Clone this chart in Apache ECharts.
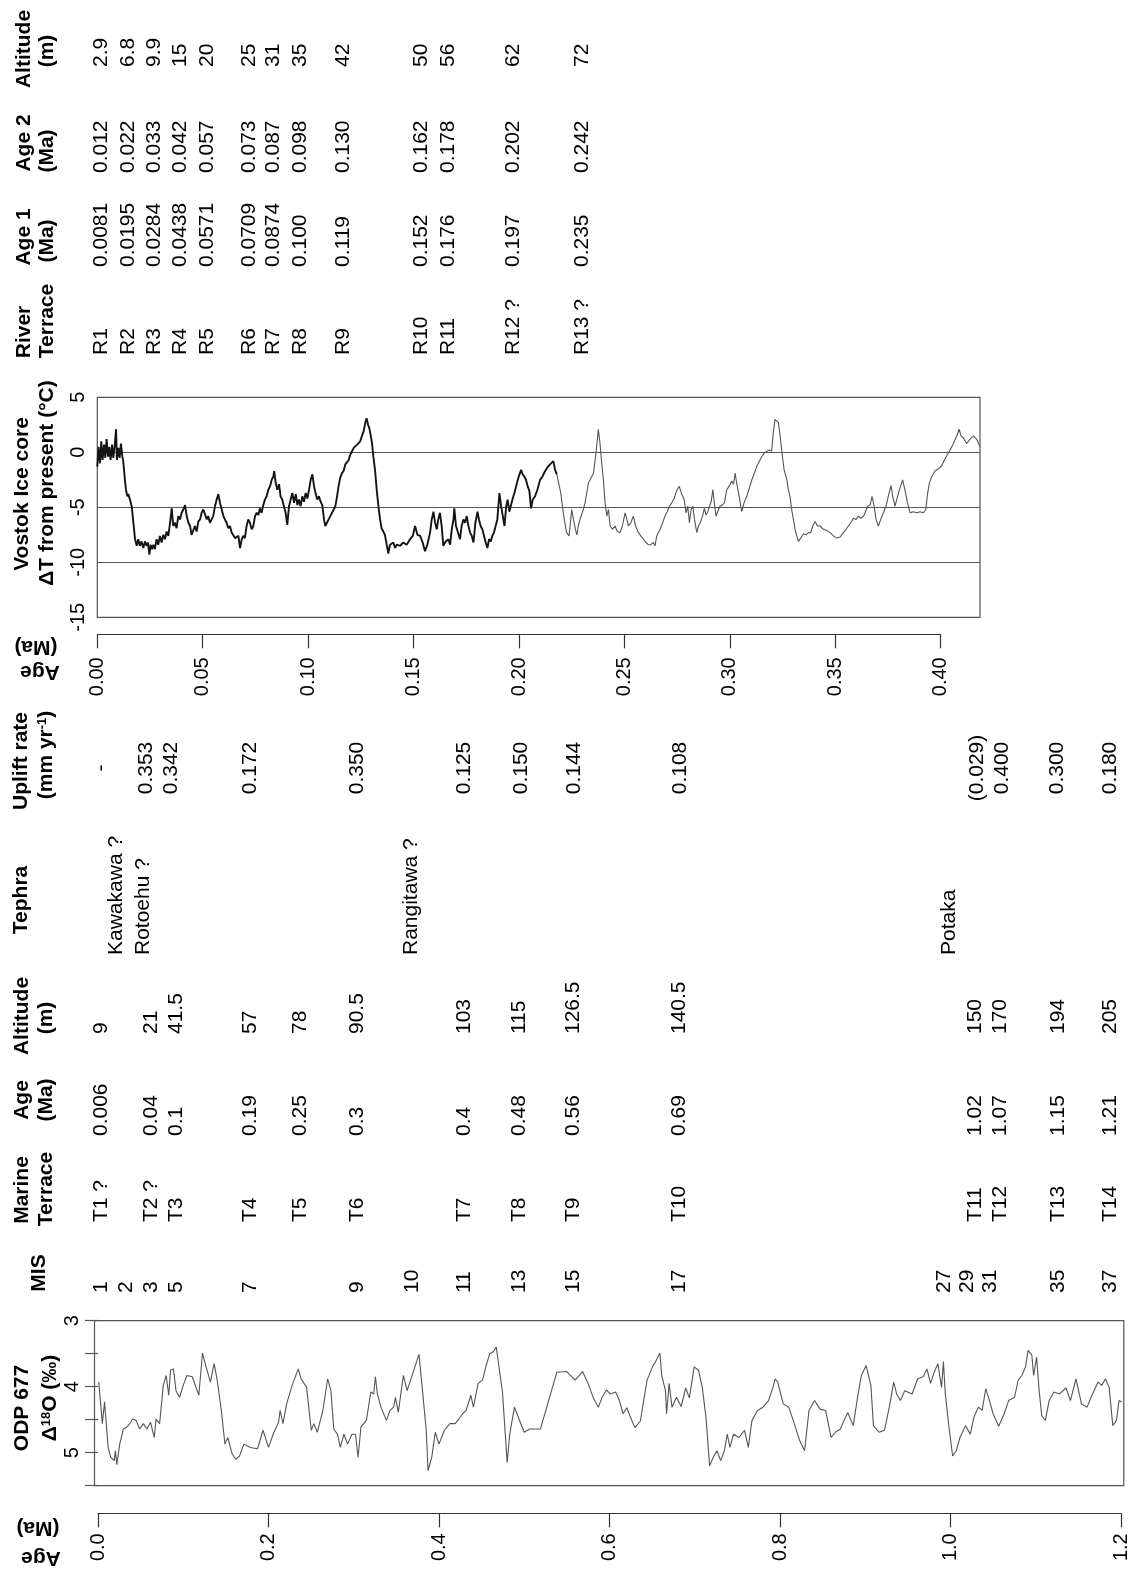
<!DOCTYPE html>
<html><head><meta charset="utf-8">
<script src="https://cdn.jsdelivr.net/npm/echarts@6/dist/echarts.min.js"></script>
<style>html,body{margin:0;padding:0;background:#fff}#c{width:1136px;height:1570px}</style>
</head><body><div id="c"></div>
<script>
// ---------------- DATA ----------------
// Vostok ice core: [age (Ma), dT (degC)]
const vostok = [
[0.0000,-1.3],[0.0006,0.5],[0.0013,-1.0],[0.0019,1.0],[0.0025,-0.7],[0.0032,0.7],[0.0038,-0.5],[0.0044,1.2],[0.0051,-0.4],[0.0057,0.5],
[0.0063,-0.7],[0.0070,0.7],[0.0076,-0.5],[0.0082,0.5],[0.0089,2.1],[0.0093,-0.7],[0.0100,0.4],[0.0106,-0.5],[0.0112,0.8],[0.0119,-0.4],
[0.0123,-0.8],[0.0131,-2.5],[0.0136,-3.4],[0.0142,-4.0],[0.0147,-3.8],[0.0155,-4.3],[0.0163,-4.9],[0.0171,-6.4],[0.0179,-7.9],[0.0187,-8.5],
[0.0194,-7.9],[0.0202,-8.5],[0.0210,-8.1],[0.0218,-8.7],[0.0226,-8.1],[0.0234,-8.5],[0.0240,-8.2],[0.0247,-9.3],[0.0253,-8.4],[0.0259,-8.8],
[0.0266,-8.4],[0.0273,-8.8],[0.0281,-7.9],[0.0289,-8.4],[0.0297,-7.6],[0.0305,-8.2],[0.0313,-7.5],[0.0321,-7.9],[0.0329,-7.2],[0.0337,-7.6],
[0.0345,-6.4],[0.0353,-5.1],[0.0360,-6.7],[0.0368,-6.4],[0.0376,-6.9],[0.0384,-5.8],[0.0392,-6.1],[0.0400,-5.5],[0.0408,-5.2],[0.0416,-4.8],
[0.0424,-5.8],[0.0432,-6.4],[0.0440,-6.7],[0.0447,-7.5],[0.0455,-7.6],[0.0463,-6.7],[0.0471,-7.2],[0.0479,-6.3],[0.0487,-6.1],[0.0495,-5.5],
[0.0503,-5.2],[0.0511,-5.1],[0.0519,-6.1],[0.0526,-5.8],[0.0534,-6.4],[0.0542,-6.1],[0.0550,-5.8],[0.0558,-4.9],[0.0566,-4.3],[0.0574,-3.8],
[0.0582,-4.6],[0.0590,-5.2],[0.0598,-5.8],[0.0605,-6.1],[0.0613,-6.4],[0.0621,-6.9],[0.0629,-6.7],[0.0637,-7.3],[0.0645,-7.2],[0.0653,-7.8],
[0.0661,-7.9],[0.0669,-7.6],[0.0677,-8.7],[0.0685,-7.9],[0.0692,-7.6],[0.0700,-7.8],[0.0708,-6.7],[0.0716,-6.1],[0.0724,-6.4],[0.0732,-7.0],
[0.0740,-6.7],[0.0748,-5.8],[0.0756,-5.5],[0.0764,-5.7],[0.0771,-5.1],[0.0779,-5.5],[0.0787,-4.8],[0.0795,-4.3],[0.0803,-4.0],[0.0811,-3.4],
[0.0819,-3.1],[0.0827,-2.5],[0.0835,-2.2],[0.0839,-1.7],[0.0846,-2.8],[0.0854,-3.4],[0.0862,-2.9],[0.0869,-4.0],[0.0877,-4.3],[0.0885,-4.9],
[0.0893,-5.5],[0.0901,-6.6],[0.0909,-4.9],[0.0917,-4.3],[0.0925,-3.7],[0.0933,-4.6],[0.0941,-3.8],[0.0949,-4.8],[0.0956,-4.3],[0.0964,-4.9],
[0.0972,-4.0],[0.0980,-4.5],[0.0988,-3.7],[0.0996,-4.2],[0.1004,-3.4],[0.1012,-2.5],[0.1020,-2.0],[0.1028,-3.1],[0.1036,-3.8],[0.1043,-4.3],
[0.1051,-4.0],[0.1059,-4.5],[0.1067,-4.8],[0.1075,-6.1],[0.1081,-6.7],[0.1089,-6.4],[0.1097,-6.1],[0.1105,-5.8],[0.1113,-5.7],[0.1121,-5.2],
[0.1129,-4.9],[0.1137,-4.0],[0.1144,-3.1],[0.1152,-2.3],[0.1160,-1.9],[0.1168,-1.7],[0.1176,-1.1],[0.1184,-1.0],[0.1192,-0.7],[0.1200,-0.2],
[0.1208,0.1],[0.1216,0.4],[0.1224,0.5],[0.1232,0.7],[0.1239,0.8],[0.1247,1.0],[0.1255,1.5],[0.1263,1.9],[0.1271,2.7],[0.1277,3.1],
[0.1284,2.5],[0.1290,2.2],[0.1296,1.6],[0.1303,0.8],[0.1309,-0.4],[0.1317,-1.6],[0.1325,-3.4],[0.1333,-4.9],[0.1341,-6.1],[0.1348,-6.9],
[0.1356,-7.2],[0.1364,-7.5],[0.1372,-7.6],[0.1380,-9.2],[0.1388,-8.4],[0.1396,-8.5],[0.1404,-8.2],[0.1412,-8.7],[0.1420,-8.4],[0.1428,-8.5],
[0.1436,-8.5],[0.1451,-8.2],[0.1467,-8.4],[0.1483,-7.9],[0.1496,-7.6],[0.1507,-6.7],[0.1518,-7.5],[0.1531,-7.6],[0.1543,-8.2],[0.1554,-9.0],
[0.1565,-8.4],[0.1578,-7.3],[0.1586,-6.1],[0.1594,-5.4],[0.1602,-6.4],[0.1610,-7.0],[0.1617,-6.1],[0.1625,-5.5],[0.1633,-6.7],[0.1641,-8.5],
[0.1652,-8.1],[0.1665,-7.9],[0.1673,-8.4],[0.1681,-7.0],[0.1689,-6.1],[0.1693,-5.1],[0.1701,-6.7],[0.1709,-7.2],[0.1720,-7.9],[0.1728,-6.7],
[0.1736,-6.1],[0.1744,-6.4],[0.1752,-5.8],[0.1760,-6.7],[0.1768,-7.3],[0.1776,-7.6],[0.1784,-8.2],[0.1793,-6.4],[0.1803,-5.4],[0.1810,-6.1],
[0.1818,-6.7],[0.1826,-7.0],[0.1834,-7.6],[0.1842,-8.2],[0.1850,-8.7],[0.1858,-7.9],[0.1866,-8.1],[0.1873,-7.6],[0.1881,-7.3],[0.1889,-6.7],
[0.1897,-6.1],[0.1907,-3.7],[0.1915,-4.9],[0.1923,-5.8],[0.1931,-6.7],[0.1939,-4.9],[0.1946,-4.3],[0.1954,-5.4],[0.1962,-4.8],[0.1970,-4.2],
[0.1978,-3.7],[0.1986,-3.1],[0.1994,-2.5],[0.2002,-2.0],[0.2010,-1.6],[0.2017,-2.0],[0.2025,-2.2],[0.2033,-2.5],[0.2041,-3.1],[0.2049,-3.5],
[0.2057,-5.1],[0.2065,-4.3],[0.2076,-4.0],[0.2087,-3.4],[0.2100,-2.5],[0.2111,-2.2],[0.2124,-1.7],[0.2134,-1.4],[0.2147,-1.1],[0.2155,-1.0],
[0.2163,-0.8],[0.2171,-1.6],[0.2179,-2.0],[0.2188,-2.8],[0.2198,-3.7],[0.2207,-5.1],[0.2217,-6.4],[0.2226,-7.3],[0.2237,-7.6],[0.2250,-5.2],
[0.2258,-6.1],[0.2266,-6.9],[0.2274,-7.5],[0.2281,-6.7],[0.2289,-6.1],[0.2297,-6.0],[0.2305,-5.2],[0.2313,-4.6],[0.2321,-3.7],[0.2329,-2.8],
[0.2337,-2.5],[0.2345,-2.2],[0.2353,-1.9],[0.2361,-0.7],[0.2368,0.5],[0.2376,2.1],[0.2384,0.8],[0.2392,-1.0],[0.2400,-2.5],[0.2408,-4.6],
[0.2416,-5.8],[0.2424,-5.2],[0.2432,-6.7],[0.2443,-7.0],[0.2455,-6.7],[0.2466,-7.2],[0.2479,-7.3],[0.2490,-6.7],[0.2503,-5.5],[0.2511,-6.1],
[0.2519,-6.7],[0.2530,-6.4],[0.2542,-5.8],[0.2553,-6.7],[0.2566,-7.3],[0.2577,-7.6],[0.2590,-7.9],[0.2602,-8.2],[0.2613,-8.4],[0.2625,-8.4],
[0.2637,-8.2],[0.2645,-8.5],[0.2653,-7.6],[0.2661,-7.3],[0.2669,-7.0],[0.2681,-6.4],[0.2692,-5.8],[0.2703,-5.4],[0.2713,-4.9],[0.2724,-4.6],
[0.2735,-4.2],[0.2747,-3.5],[0.2760,-3.1],[0.2771,-3.8],[0.2783,-4.3],[0.2792,-5.5],[0.2800,-4.9],[0.2808,-6.4],[0.2816,-5.2],[0.2824,-4.9],
[0.2832,-6.1],[0.2843,-7.3],[0.2851,-6.7],[0.2859,-6.4],[0.2870,-5.8],[0.2879,-5.1],[0.2887,-5.7],[0.2895,-5.4],[0.2903,-4.9],[0.2911,-4.5],
[0.2919,-3.4],[0.2926,-4.6],[0.2934,-5.8],[0.2942,-5.4],[0.2953,-4.9],[0.2964,-4.8],[0.2974,-4.6],[0.2985,-3.4],[0.2996,-3.1],[0.3009,-2.6],
[0.3017,-2.9],[0.3025,-1.9],[0.3032,-2.8],[0.3044,-4.0],[0.3056,-5.4],[0.3067,-4.6],[0.3080,-4.0],[0.3093,-3.2],[0.3104,-2.5],[0.3116,-1.9],
[0.3127,-1.3],[0.3140,-0.8],[0.3151,-0.4],[0.3162,-0.1],[0.3175,0.1],[0.3187,0.2],[0.3198,0.1],[0.3206,1.8],[0.3214,3.0],[0.3222,3.1],
[0.3230,2.7],[0.3238,1.5],[0.3246,0.1],[0.3257,-1.6],[0.3270,-2.5],[0.3277,-3.4],[0.3285,-4.0],[0.3293,-5.2],[0.3301,-6.1],[0.3309,-7.0],
[0.3317,-7.6],[0.3325,-8.1],[0.3336,-7.8],[0.3349,-7.4],[0.3361,-7.5],[0.3372,-7.3],[0.3383,-7.3],[0.3393,-6.7],[0.3404,-6.3],[0.3415,-6.7],
[0.3428,-6.7],[0.3443,-7.0],[0.3459,-7.1],[0.3475,-7.3],[0.3491,-7.6],[0.3507,-7.8],[0.3523,-7.7],[0.3538,-7.3],[0.3551,-7.0],[0.3562,-6.7],
[0.3573,-6.4],[0.3586,-6.0],[0.3598,-6.1],[0.3610,-5.8],[0.3621,-6.0],[0.3634,-5.8],[0.3643,-5.4],[0.3653,-4.9],[0.3665,-4.8],[0.3674,-4.0],
[0.3684,-4.9],[0.3693,-6.1],[0.3704,-6.7],[0.3715,-6.1],[0.3728,-5.5],[0.3740,-4.9],[0.3751,-4.0],[0.3764,-3.0],[0.3772,-4.0],[0.3783,-4.9],
[0.3791,-4.3],[0.3804,-3.4],[0.3819,-2.5],[0.3831,-3.5],[0.3842,-4.6],[0.3855,-5.5],[0.3870,-5.4],[0.3886,-5.5],[0.3902,-5.4],[0.3918,-5.5],
[0.3929,-5.2],[0.3937,-3.8],[0.3946,-2.8],[0.3957,-2.2],[0.3973,-1.7],[0.3989,-1.5],[0.4005,-1.2],[0.4017,-0.7],[0.4029,-0.3],[0.4044,0.2],
[0.4060,0.8],[0.4076,1.5],[0.4087,2.1],[0.4096,1.5],[0.4107,1.3],[0.4123,0.8],[0.4139,1.2],[0.4155,1.5],[0.4170,1.2],[0.4186,0.5]
];

// ODP 677: [age (Ma), d18O (permil)]
const odp677 = [
[0.0009,3.93],[0.0051,4.56],[0.0077,4.23],[0.0094,4.51],[0.0119,4.92],[0.0149,5.07],[0.0191,5.12],[0.0204,4.97],[0.0221,5.18],[0.0255,4.87],
[0.0298,4.64],[0.0340,4.61],[0.0374,4.56],[0.0404,4.49],[0.0447,4.51],[0.0489,4.64],[0.0532,4.56],[0.0574,4.64],[0.0617,4.54],[0.0660,4.77],
[0.0681,4.49],[0.0723,4.56],[0.0766,3.98],[0.0800,3.83],[0.0830,4.13],[0.0851,3.75],[0.0885,3.73],[0.0915,4.06],[0.0957,4.16],[0.1000,3.98],
[0.1043,3.83],[0.1106,3.85],[0.1183,4.13],[0.1226,3.49],[0.1268,3.70],[0.1319,3.93],[0.1362,3.65],[0.1396,3.88],[0.1447,4.36],[0.1489,4.87],
[0.1523,4.77],[0.1574,5.02],[0.1617,5.10],[0.1660,5.05],[0.1711,4.87],[0.1787,4.92],[0.1872,4.94],[0.1936,4.66],[0.2000,4.92],[0.2064,4.69],
[0.2119,4.54],[0.2136,4.36],[0.2170,4.56],[0.2213,4.26],[0.2277,3.98],[0.2349,3.73],[0.2383,3.88],[0.2447,4.01],[0.2502,4.66],[0.2532,4.56],
[0.2574,4.69],[0.2638,4.36],[0.2694,3.88],[0.2732,4.06],[0.2766,4.64],[0.2809,4.72],[0.2843,4.92],[0.2885,4.72],[0.2928,4.87],[0.2979,4.72],
[0.3021,4.72],[0.3051,5.07],[0.3085,4.61],[0.3149,4.51],[0.3200,4.08],[0.3234,4.11],[0.3255,3.85],[0.3277,4.11],[0.3319,4.31],[0.3383,4.51],
[0.3426,4.36],[0.3468,4.31],[0.3489,4.16],[0.3523,4.39],[0.3566,3.98],[0.3583,3.83],[0.3626,4.06],[0.3766,3.51],[0.3851,4.66],[0.3872,5.27],
[0.3915,5.07],[0.3957,4.69],[0.4000,4.87],[0.4064,4.66],[0.4128,4.56],[0.4191,4.56],[0.4234,4.49],[0.4277,4.41],[0.4319,4.36],[0.4374,4.13],
[0.4404,4.31],[0.4460,3.95],[0.4511,3.90],[0.4553,3.68],[0.4596,3.50],[0.4638,3.47],[0.4672,3.40],[0.4745,4.08],[0.4800,5.15],[0.4830,4.72],
[0.4885,4.31],[0.4915,4.41],[0.5000,4.69],[0.5064,4.64],[0.5191,4.64],[0.5383,3.78],[0.5499,3.77],[0.5598,3.90],[0.5685,3.77],[0.5749,3.95],
[0.5814,4.18],[0.5870,4.31],[0.5914,4.16],[0.5965,4.05],[0.6009,4.11],[0.6073,4.08],[0.6117,4.21],[0.6160,4.41],[0.6203,4.32],[0.6246,4.46],
[0.6298,4.62],[0.6363,4.52],[0.6441,3.90],[0.6505,3.70],[0.6549,3.60],[0.6592,3.49],[0.6613,3.83],[0.6657,4.06],[0.6670,4.41],[0.6700,3.95],
[0.6734,4.31],[0.6786,4.16],[0.6842,4.30],[0.6894,4.02],[0.6937,4.17],[0.6994,3.70],[0.7045,3.75],[0.7089,4.01],[0.7132,4.46],[0.7175,5.20],
[0.7218,5.07],[0.7261,4.97],[0.7305,5.12],[0.7348,4.97],[0.7382,4.72],[0.7413,4.92],[0.7456,4.72],[0.7521,4.77],[0.7585,4.66],[0.7629,4.92],
[0.7672,4.51],[0.7737,4.36],[0.7801,4.31],[0.7866,4.21],[0.7918,4.01],[0.7944,3.88],[0.7974,3.93],[0.8039,4.26],[0.8104,4.31],[0.8168,4.56],
[0.8233,4.82],[0.8289,4.97],[0.8341,4.36],[0.8406,4.21],[0.8471,4.34],[0.8536,4.36],[0.8600,4.77],[0.8652,4.69],[0.8708,4.64],[0.8752,4.51],
[0.8795,4.39],[0.8860,4.59],[0.8911,4.16],[0.8955,3.83],[0.9011,3.68],[0.9067,3.98],[0.9097,4.59],[0.9162,4.69],[0.9227,4.66],[0.9283,4.31],
[0.9335,3.93],[0.9369,4.11],[0.9413,4.21],[0.9464,4.06],[0.9551,4.11],[0.9616,3.88],[0.9680,3.85],[0.9724,3.73],[0.9767,3.95],[0.9810,3.78],
[0.9853,3.65],[0.9896,4.01],[0.9918,3.62],[0.9940,4.11],[0.9983,4.61],[1.0026,5.05],[1.0069,4.97],[1.0112,4.77],[1.0177,4.59],[1.0233,4.72],
[1.0276,4.46],[1.0328,4.31],[1.0372,4.36],[1.0415,4.03],[1.0458,4.21],[1.0501,4.41],[1.0566,4.60],[1.0631,4.41],[1.0683,4.21],[1.0752,4.16],
[1.0795,3.90],[1.0838,3.83],[1.0881,3.70],[1.0911,3.45],[1.0955,3.52],[1.0976,3.83],[1.1011,3.55],[1.1041,4.06],[1.1071,4.44],[1.1114,4.51],
[1.1158,4.21],[1.1214,4.08],[1.1279,4.11],[1.1356,4.02],[1.1408,4.21],[1.1473,3.88],[1.1538,4.26],[1.1603,4.31],[1.1667,4.11],[1.1732,3.93],
[1.1775,3.98],[1.1819,3.88],[1.1862,4.01],[1.1905,4.59],[1.1948,4.51],[1.1978,4.21],[1.2013,4.23]
];

// River terrace table
const riverTerrace = ['R1','R2','R3','R4','R5','R6','R7','R8','R9','R10','R11','R12 ?','R13 ?'];
const riverAge1 = ['0.0081','0.0195','0.0284','0.0438','0.0571','0.0709','0.0874','0.100','0.119','0.152','0.176','0.197','0.235'];
const riverAge2 = ['0.012','0.022','0.033','0.042','0.057','0.073','0.087','0.098','0.130','0.162','0.178','0.202','0.242'];
const riverAltitude = ['2.9','6.8','9.9','15','20','25','31','35','42','50','56','62','72'];

// Marine terrace table
const misStages = ['1','2','3','5','7','9','10','11','13','15','17','27','29','31','35','37'];
const marineTerrace = ['T1 ?','T2 ?','T3','T4','T5','T6','T7','T8','T9','T10','T11','T12','T13','T14'];
const marineAge = ['0.006','0.04','0.1','0.19','0.25','0.3','0.4','0.48','0.56','0.69','1.02','1.07','1.15','1.21'];
const marineAltitude = ['9','21','41.5','57','78','90.5','103','115','126.5','140.5','150','170','194','205'];
const tephra = ['Kawakawa ?','Rotoehu ?','Rangitawa ?','Potaka'];
const upliftRate = ['-','0.353','0.342','0.172','0.350','0.125','0.150','0.144','0.108','(0.029)','0.400','0.300','0.180'];

// Tick labels
const vostokAgeTicks = ['0.00','0.05','0.10','0.15','0.20','0.25','0.30','0.35','0.40'];
const odpAgeTicks = ['0.0','0.2','0.4','0.6','0.8','1.0','1.2'];
const vostokTempTicks = [-15,-10,-5,0,5];
const odpIsoTicks = [3,4,5];

// ---------------- LAYOUT (pixel positions of table rows / columns) ----------------
const riverRowX = [101,128,154,180,207,249,273,300,343,421,448,513,582];
const misRowX = [101,126,151,176,250,357,412,464,519,573,679,944,967,990,1058,1110];
const marineRowX = [101,151,176,250,300,357,464,519,573,679,975,1000,1058,1110];
const upliftRowX = [101,146,171,250,357,464,521,574,680,977,1002,1057,1110];
const tephraRowX = [116,143,411,949];

const FONT = '"Liberation Sans", Arial, Helvetica, sans-serif';
const FS = 21;

function vText(str, x, y, align, bold, rich) {
  const st = {text: str, fill: '#000', fontSize: FS, fontFamily: FONT, fontWeight: bold ? 'bold' : 'normal',
    align: align, textAlign: align, verticalAlign: 'middle', textVerticalAlign: 'middle'};
  if (rich) st.rich = rich;
  return {type: 'text', x: x, y: y, rotation: Math.PI / 2, silent: true, style: st};
}
function flipText(str, x, y) {
  return {type: 'text', x: x, y: y, rotation: Math.PI, silent: true,
    style: {text: str, fill: '#000', fontSize: FS, fontFamily: FONT, fontWeight: 'bold',
      align: 'center', textAlign: 'center', verticalAlign: 'middle', textVerticalAlign: 'middle'}};
}
const supRich = (bold) => ({
  sup: {fontSize: 13, fontFamily: FONT, fontWeight: bold ? 'bold' : 'normal', verticalAlign: 'top', fill: '#000'},
  n: {fontSize: FS, fontFamily: FONT, fontWeight: bold ? 'bold' : 'normal', fill: '#000'}
});

const els = [];
// Headers (centered)
[
  ['Altitude', 24, 49], ['(m)', 47, 51],
  ['Age 2', 24, 143], ['(Ma)', 47, 151],
  ['Age 1', 24, 237], ['(Ma)', 47, 241],
  ['River', 24, 332], ['Terrace', 47, 321],
  ['Vostok Ice core', 22, 494], ['\u0394T from present (\u00b0C)', 47, 483],
  ['Uplift rate', 21, 761],
  ['Tephra', 21, 900],
  ['Altitude', 22, 1016], ['(m)', 46, 1018],
  ['Age', 22, 1100], ['(Ma)', 46, 1100],
  ['Marine', 22, 1190], ['Terrace', 46, 1189],
  ['MIS', 39, 1273],
  ['ODP 677', 22, 1408]
].forEach(h => els.push(vText(h[0], h[1], h[2], 'center', true)));
els.push(vText('{n|(mm yr}{sup|-1}{n|)}', 46, 755, 'center', true, supRich(true)));
els.push(vText('{n|\u0394}{sup|18}{n|O (\u2030)}', 50, 1398, 'center', true, supRich(true)));
els.push(flipText('(Ma)', 36, 647), flipText('Age', 40, 672));
els.push(flipText('(Ma)', 38, 1528), flipText('Age', 41, 1558));

// Upper table values (start-aligned: text begins at the given bottom y)
riverTerrace.forEach((t, i) => els.push(vText(t, riverRowX[i], 355, 'left')));
riverAge1.forEach((t, i) => els.push(vText(t, riverRowX[i], 267, 'left')));
riverAge2.forEach((t, i) => els.push(vText(t, riverRowX[i], 173, 'left')));
riverAltitude.forEach((t, i) => els.push(vText(t, riverRowX[i], 67, 'left')));
// Lower table values
upliftRate.forEach((t, i) => els.push(vText(t, upliftRowX[i], 768, 'center')));
tephra.forEach((t, i) => els.push(vText(t, tephraRowX[i], 955, 'left')));
marineAltitude.forEach((t, i) => els.push(vText(t, marineRowX[i], 1034, 'left')));
marineAge.forEach((t, i) => els.push(vText(t, marineRowX[i], 1136, 'left')));
marineTerrace.forEach((t, i) => els.push(vText(t, marineRowX[i], 1222, 'left')));
misStages.forEach((t, i) => els.push(vText(t, misRowX[i], 1293, 'left')));

// ---------------- CHART ----------------
const split = 0.2179;
const vostokA = vostok.filter(d => d[0] <= split);
const vostokB = vostok.filter(d => d[0] >= split);

const hiddenAxis = {axisLine: {show: false}, axisTick: {show: false}, axisLabel: {show: false}, splitLine: {show: false}};
const tickLabelStyle = {color: '#000', fontSize: 20, fontFamily: FONT};

const chart = echarts.init(document.getElementById('c'), null, {renderer: 'canvas'});
chart.setOption({
  animation: false,
  backgroundColor: '#fff',
  grid: [
    {left: 97.3, top: 397.3, width: 882.7, height: 220, show: true, borderColor: '#555', borderWidth: 1.2, backgroundColor: 'transparent'},
    {left: 97.3, top: 633.3, width: 843.4, height: 1},
    {left: 94.5, top: 1320.7, width: 1029.3, height: 165, show: true, borderColor: '#555', borderWidth: 1.2, backgroundColor: 'transparent'},
    {left: 98, top: 1512.3, width: 1023, height: 1}
  ],
  xAxis: [
    Object.assign({gridIndex: 0, type: 'value', min: 0, max: 0.4186}, hiddenAxis),
    {gridIndex: 1, type: 'value', min: 0, max: 0.4, interval: 0.05, position: 'bottom',
      axisLine: {show: true, lineStyle: {color: '#333', width: 1.2}},
      axisTick: {show: true, length: 14, lineStyle: {color: '#333', width: 1.2}},
      axisLabel: Object.assign({rotate: 90, margin: 23, formatter: v => vostokAgeTicks[Math.round(v / 0.05)] || ''}, tickLabelStyle),
      splitLine: {show: false}},
    Object.assign({gridIndex: 2, type: 'value', min: -0.0041, max: 1.2034}, hiddenAxis),
    {gridIndex: 3, type: 'value', min: 0, max: 1.2, interval: 0.2, position: 'bottom',
      axisLine: {show: true, lineStyle: {color: '#333', width: 1.2}},
      axisTick: {show: true, length: 14, lineStyle: {color: '#333', width: 1.2}},
      axisLabel: Object.assign({rotate: 90, margin: 20, formatter: v => odpAgeTicks[Math.round(v / 0.2)] || ''}, tickLabelStyle),
      splitLine: {show: false}}
  ],
  yAxis: [
    {gridIndex: 0, type: 'value', min: -15, max: 5, interval: 5,
      axisLine: {show: false}, axisTick: {show: false},
      axisLabel: Object.assign({rotate: 90, margin: 9, formatter: v => vostokTempTicks.indexOf(v) >= 0 ? String(v) : ''}, tickLabelStyle),
      splitLine: {show: true, lineStyle: {color: '#555', width: 1.2}}},
    Object.assign({gridIndex: 1, type: 'value', min: 0, max: 1}, hiddenAxis),
    {gridIndex: 2, type: 'value', inverse: true, min: 3, max: 5.5, interval: 0.5,
      axisLine: {show: false},
      axisTick: {show: true, length: 13, lineStyle: {color: '#555', width: 1.2}},
      axisLabel: Object.assign({rotate: 90, margin: 12, formatter: v => odpIsoTicks.indexOf(v) >= 0 ? String(v) : ''}, tickLabelStyle),
      splitLine: {show: false}},
    Object.assign({gridIndex: 3, type: 'value', min: 0, max: 1}, hiddenAxis)
  ],
  series: [
    {type: 'line', xAxisIndex: 0, yAxisIndex: 0, data: vostokA, showSymbol: false, symbol: 'none',
      lineStyle: {color: '#141414', width: 1.9}, silent: true},
    {type: 'line', xAxisIndex: 0, yAxisIndex: 0, data: vostokB, showSymbol: false, symbol: 'none',
      lineStyle: {color: '#555', width: 1.1}, silent: true},
    {type: 'line', xAxisIndex: 2, yAxisIndex: 2, data: odp677, showSymbol: false, symbol: 'none',
      lineStyle: {color: '#555', width: 1.1}, silent: true}
  ],
  graphic: {elements: els}
});
</script></body></html>
